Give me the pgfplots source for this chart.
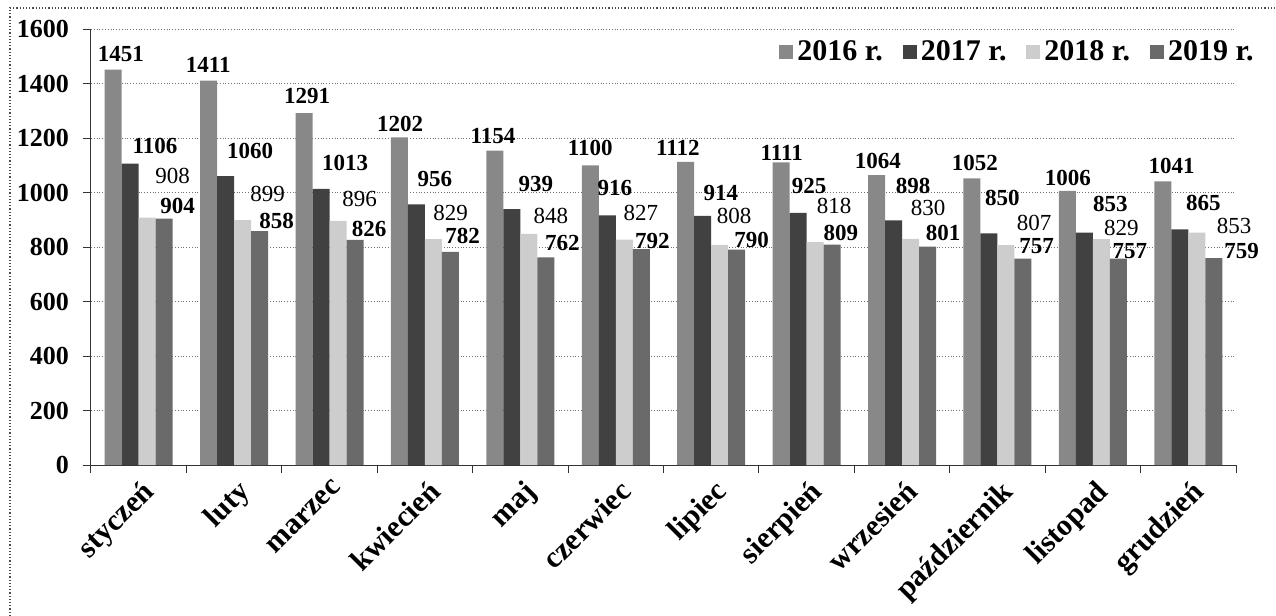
\documentclass[border=0pt]{standalone}
\usepackage{fontspec}
\setmainfont{Liberation Serif}
\usepackage{pgfplots}
\usepackage{pgfplotstable}
\pgfplotsset{compat=1.18}
\definecolor{cA}{HTML}{888888}
\definecolor{cB}{HTML}{414141}
\definecolor{cC}{HTML}{CDCDCD}
\definecolor{cD}{HTML}{6A6A6A}
% x = month, y = value, dx/dy = label offset (pt)
\pgfplotstableread{
x y dx dy
1 1451 3.8 3.5
2 1411 -0.15 3.95
3 1291 1.5 4.45
4 1202 0.3 2.45
5 1154 -0.95 3.1
6 1100 0 4.7
7 1112 -3.95 3.05
8 1111 0.3 0.7
9 1064 0.7 2.85
10 1052 1.5 3.7
11 1006 0.2 2.5
12 1041 4.45 3.5
}\tA
\pgfplotstableread{
x y dx dy
1 1106 12.4 4.65
2 1060 12.2 8.4
3 1013 12 9.05
4 956 9.15 8.45
5 939 11.95 8.25
6 916 3.85 9.75
7 914 9.05 7.5
8 925 5.55 9.3
9 898 9.85 13
10 850 6.75 13.75
11 853 13.05 10
12 865 11.75 9.2
}\tB
\pgfplotstableread{
x y dx dy
1 908 12.65 16.65
2 899 12.45 8.7
3 896 10.75 6.95
4 829 8.55 9.1
5 848 10.95 4.8
6 827 8.25 9.35
7 808 7.25 10.25
8 818 9.55 13.9
9 830 8.85 11.45
10 807 14.1 7.1
11 829 9.95 1.6
12 853 18.7 -0.85
}\tC
\pgfplotstableread{
x y dx dy
1 904 6.65 2.2
2 858 8.55 0.95
3 826 7 1.15
4 782 6.05 3.8
5 762 8.3 3.25
6 792 5.6 -0.05
7 790 7.5 1.05
8 809 4.35 1.8
9 801 7.85 2.9
10 757 6.85 2.2
11 757 5.8 -0.3
12 759 13.95 -0.55
}\tD
\begin{document}
\begin{tikzpicture}
\useasboundingbox (-45.5pt,-75.5pt) rectangle (592.5pt,232.5pt);
\draw[black!70, line width=0.6pt, densely dotted] (-40.5pt,-75.5pt) -- (-40.5pt,228.5pt) -- (592.5pt,228.5pt);
\begin{axis}[
  at={(0pt,0pt)}, anchor=south west,
  width=572.5pt, height=218pt, scale only axis, clip=false,
  xmin=0.5, xmax=12.5, ymin=0, ymax=1600,
  ybar=0pt, bar width=8.5pt,
  axis lines=left, axis line style={-, black!80, line width=0.5pt},
  /pgf/number format/1000 sep={},
  /pgf/number format/assume math mode=true,
  ytick={0,200,400,600,800,1000,1200,1400,1600},
  ymajorgrids, major grid style={densely dotted, black!55, line width=0.5pt},
  tick align=outside, major tick length=4pt,
  tick style={black!80, line width=0.5pt},
  yticklabel style={xshift=-3.5pt, font=\bfseries\fontsize{13}{13}\selectfont},
  xtick={0.5,1.5,2.5,3.5,4.5,5.5,6.5,7.5,8.5,9.5,10.5,11.5,12.5},
  x tick label as interval,
  xticklabels={styczeń,luty,marzec,kwiecień,maj,czerwiec,lipiec,sierpień,wrzesień,październik,listopad,grudzień},
  xticklabel style={rotate=45, anchor=north east, inner sep=0pt, xshift=-1pt, yshift=-2.5pt, font=\bfseries\fontsize{15}{15}\selectfont},
  nodes near coords,
  visualization depends on={\thisrow{dx} \as \dx},
  visualization depends on={\thisrow{dy} \as \dy},
  every node near coord/.append style={inner sep=0pt, anchor=south, xshift=\dx pt, yshift=\dy pt, font=\bfseries\fontsize{11.5}{11.5}\selectfont},
  legend columns=4,
  legend style={at={(1,1)}, anchor=east, xshift=14pt, yshift=-11.5pt, draw=none, fill=none,
    font=\bfseries\fontsize{15}{15}\selectfont,
    /tikz/every even column/.append style={column sep=8pt},
    /tikz/every odd column/.append style={column sep=0pt}},
  legend image code/.code={\fill[#1] (0pt,-3.5pt) rectangle (7pt,3.5pt);},
]
\addplot[fill=cA, draw=none] table[x=x, y=y] {\tA};
\addplot[fill=cB, draw=none] table[x=x, y=y] {\tB};
\addplot[fill=cC, draw=none, every node near coord/.append style={font=\fontsize{11.5}{11.5}\selectfont}] table[x=x, y=y] {\tC};
\addplot[fill=cD, draw=none] table[x=x, y=y] {\tD};
\legend{2016 r.,2017 r.,2018 r.,2019 r.}
\end{axis}
\end{tikzpicture}
\end{document}
